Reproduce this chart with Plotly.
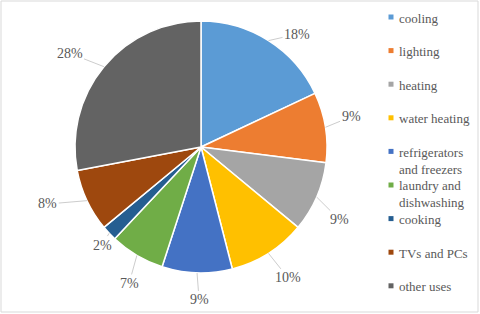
import math
import plotly.graph_objects as go

categories = ["cooling", "lighting", "heating", "water heating",
              "refrigerators and freezers", "laundry and dishwashing",
              "cooking", "TVs and PCs", "other uses"]
legend_labels = ["cooling", "lighting", "heating", "water heating",
                 "refrigerators<br>and freezers", "laundry and<br>dishwashing",
                 "cooking", "TVs and PCs", "other uses"]
shares = [18, 9, 9, 10, 9, 7, 2, 8, 28]
colors = ["#5B9BD5", "#ED7D31", "#A5A5A5", "#FFC000", "#4472C4",
          "#70AD47", "#255E91", "#9E480E", "#636363"]

# layout-only nudges (pixels) for the percentage labels, like Excel's best-fit placement
label_nudge = [(13, 18), (-3, -6), (-4, 11), (4, 0), (3, -2),
               (7, 3), (14, -8), (-13, -9), (-12, 5)]

W, H = 480, 314
CX, CY, R = 201, 147, 126
TEXT_R = 155
FONT = "Liberation Serif"
TXT = "#595959"

def px(x):
    return x / W

def py(y):
    return (H - y) / H

fig = go.Figure(go.Pie(
    labels=categories, values=shares, sort=False, direction="clockwise",
    rotation=0, textinfo="none", hoverinfo="label+percent",
    marker=dict(colors=colors, line=dict(color="white", width=1.5)),
    domain=dict(x=[px(CX - R), px(CX + R)], y=[py(CY + R), py(CY - R)]),
    showlegend=False,
))

annotations = []
total = sum(shares)
cum = 0
for v, (nx, ny) in zip(shares, label_nudge):
    mid = (cum + v / 2) / total * 2 * math.pi
    cum += v
    ex, ey = CX + R * math.sin(mid), CY - R * math.cos(mid)
    tx = CX + TEXT_R * math.sin(mid) + nx
    ty = CY - TEXT_R * math.cos(mid) + ny
    annotations.append(dict(
        x=px(ex), y=py(ey), xref="paper", yref="paper",
        ax=tx - ex, ay=ty - ey, axref="pixel", ayref="pixel",
        text=f"{round(v / total * 100)}%", showarrow=True, arrowhead=0,
        arrowwidth=0.8, arrowcolor="#BFBFBF", standoff=0,
        font=dict(family=FONT, size=14, color=TXT),
    ))

shapes = [dict(type="rect", xref="paper", yref="paper",
               x0=px(1), x1=px(478), y0=py(312), y1=py(1),
               line=dict(color="#D9D9D9", width=1))]

LX, LY0, LDY = 391, 17, 33.6
for i, (lab, c) in enumerate(zip(legend_labels, colors)):
    y = LY0 + i * LDY
    shapes.append(dict(type="rect", xref="paper", yref="paper",
                       x0=px(LX - 2.5), x1=px(LX + 2.5),
                       y0=py(y + 2.5), y1=py(y - 2.5),
                       fillcolor=c, line=dict(width=0)))
    annotations.append(dict(
        x=px(LX + 6), y=py(y - 8.5), xref="paper", yref="paper",
        xanchor="left", yanchor="top", align="left", showarrow=False,
        text=lab, font=dict(family=FONT, size=13, color=TXT),
    ))

fig.update_layout(
    width=W, height=H, margin=dict(l=0, r=0, t=0, b=0),
    paper_bgcolor="white", plot_bgcolor="white",
    font=dict(family=FONT, color=TXT),
    annotations=annotations, shapes=shapes,
)
fig.write_html("out.html", config={"displayModeBar": False},
               post_script="document.body.style.margin='0';document.body.style.padding='0';")
